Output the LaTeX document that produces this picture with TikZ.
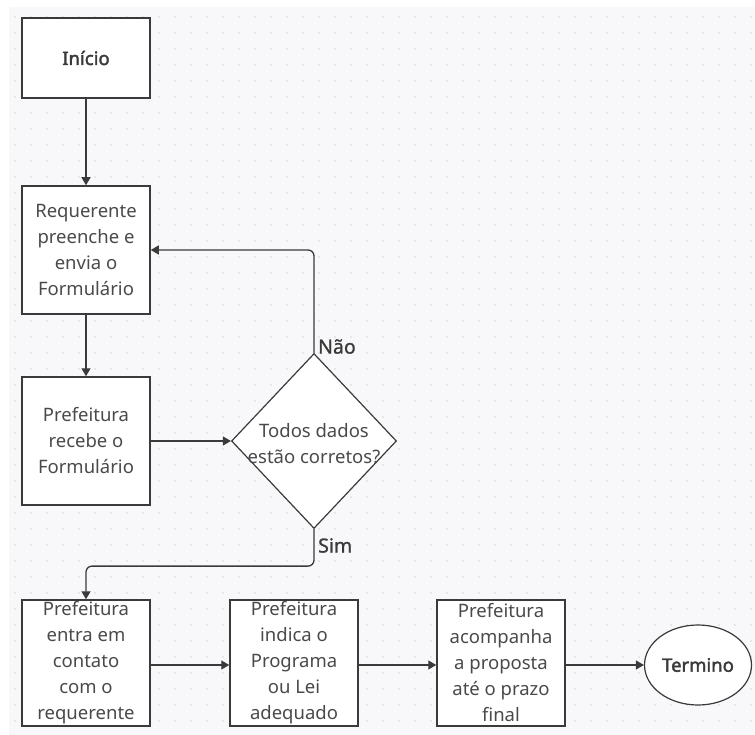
\documentclass[tikz,border=0pt]{standalone}
\usepackage{fontspec}
\setmainfont{Noto Sans}
\newfontfamily\headfont{Noto Sans}[FakeBold=2]
\newfontfamily\answerfont{Noto Sans}[FakeBold=1]
\usetikzlibrary{shapes.geometric,arrows.meta}
\definecolor{bggray}{HTML}{F8F8FA}
\definecolor{dotgray}{HTML}{D6D6DC}
\definecolor{linegray}{HTML}{3A3A3A}
\definecolor{txtgray}{HTML}{4A4A4A}
\tikzset{
  stepbox/.style={draw=linegray, line width=1.5pt, fill=white, inner sep=0pt,
    minimum width=128pt, minimum height=128pt, align=center, text=txtgray,
    font=\fontsize{18.5}{26}\selectfont},
  decision/.style={diamond, draw=linegray, line width=1.2pt, fill=white, inner sep=0pt,
    minimum width=165pt, minimum height=175pt},
  terminal/.style={ellipse, draw=linegray, line width=1.2pt, fill=white, inner sep=0pt,
    minimum width=107pt, minimum height=80pt, text=linegray,
    font=\headfont\fontsize{18.5}{26}\selectfont},
  txt/.style={align=center, text=txtgray, inner sep=0pt, font=\fontsize{18.5}{26}\selectfont},
  answer/.style={text=linegray, inner sep=0pt, font=\answerfont\fontsize{19.5}{24}\selectfont},
  flow/.style={draw=linegray, line width=1.3pt, -{Triangle[width=9pt,length=8pt]}}
}
\begin{document}
\begin{tikzpicture}[x=1pt, y=-1pt]
  \useasboundingbox (0,0) rectangle (755,735);
  \fill[bggray] (9,7) rectangle (755,735);
  \foreach \i in {0,...,46}
    \foreach \j in {0,...,44}
      \fill[dotgray] (15+16*\i,17+16*\j) circle (0.9pt);
  % nodes
  \node[stepbox, minimum height=80pt, text=linegray, font=\headfont\fontsize{18.5}{26}\selectfont]
    (inicio) at (86,58) {Início};
  \node[stepbox] (requer) at (86,250) {Requerente\\preenche e\\envia o\\Formulário};
  \node[stepbox] (recebe) at (86,441) {Prefeitura\\recebe o\\Formulário};
  \node[decision] (check) at (314,441) {};
  \node[txt] (checktxt) at (314,444) {Todos dados\\estão corretos?};
  \node[stepbox, minimum height=126pt] (contato) at (86,663) {Prefeitura\\entra em\\contato\\com o\\requerente};
  \node[stepbox, minimum height=126pt] (indica) at (294,663) {Prefeitura\\indica o\\Programa\\ou Lei\\adequado};
  \node[stepbox, minimum height=126pt] (acomp) at (501,663) {Prefeitura\\acompanha\\a proposta\\até o prazo\\final};
  \node[terminal] (fim) at (698,665) {Termino};
  % connectors
  \draw[flow] (inicio) -- (requer);
  \draw[flow] (requer) -- (recebe);
  \draw[flow] (recebe) -- (check);
  \draw[flow, rounded corners=6pt] (check.north) |- (requer.east);
  \draw[flow, rounded corners=6pt] (check.south) -- ++(0,37) -| (contato.north);
  \draw[flow] (contato.east |- 0,665) -- (indica.west |- 0,665);
  \draw[flow] (indica.east |- 0,665) -- (acomp.west |- 0,665);
  \draw[flow] (acomp.east |- 0,665) -- (fim);
  % labels
  \node[answer, anchor=south west] (nao) at (318,354) {Não};
  \node[answer, anchor=north west] (sim) at (318,538) {Sim};
\end{tikzpicture}
\end{document}
